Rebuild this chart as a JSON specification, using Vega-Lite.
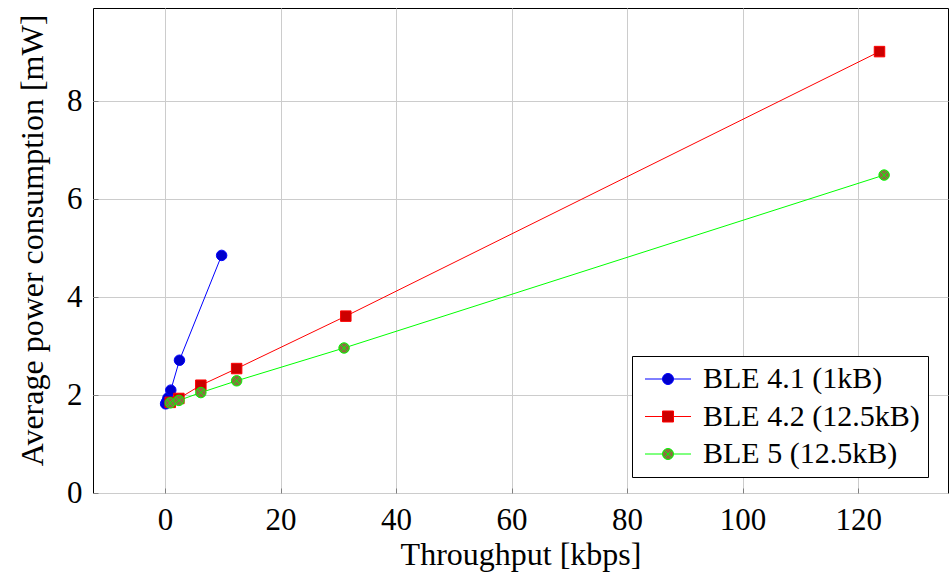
{
  "$schema": "https://vega.github.io/schema/vega-lite/v6.json",
  "autosize": {"type": "none"},
  "padding": {"left": 93, "top": 8, "right": 1, "bottom": 86},
  "width": 855,
  "height": 485,
  "background": "white",
  "data": {
    "values": [
      {"series": "BLE 4.1 (1kB)", "throughput": 0.1, "power": 1.82},
      {"series": "BLE 4.1 (1kB)", "throughput": 0.25, "power": 1.86},
      {"series": "BLE 4.1 (1kB)", "throughput": 0.5, "power": 1.94},
      {"series": "BLE 4.1 (1kB)", "throughput": 1.0, "power": 2.1},
      {"series": "BLE 4.1 (1kB)", "throughput": 2.5, "power": 2.71},
      {"series": "BLE 4.1 (1kB)", "throughput": 9.8, "power": 4.85},
      {"series": "BLE 4.2 (12.5kB)", "throughput": 0.9, "power": 1.85},
      {"series": "BLE 4.2 (12.5kB)", "throughput": 2.4, "power": 1.93},
      {"series": "BLE 4.2 (12.5kB)", "throughput": 6.2, "power": 2.2},
      {"series": "BLE 4.2 (12.5kB)", "throughput": 12.4, "power": 2.54},
      {"series": "BLE 4.2 (12.5kB)", "throughput": 31.3, "power": 3.61},
      {"series": "BLE 4.2 (12.5kB)", "throughput": 123.7, "power": 9.01},
      {"series": "BLE 5 (12.5kB)", "throughput": 0.9, "power": 1.84},
      {"series": "BLE 5 (12.5kB)", "throughput": 2.4, "power": 1.89},
      {"series": "BLE 5 (12.5kB)", "throughput": 6.2, "power": 2.05},
      {"series": "BLE 5 (12.5kB)", "throughput": 12.4, "power": 2.29},
      {"series": "BLE 5 (12.5kB)", "throughput": 31.0, "power": 2.96},
      {"series": "BLE 5 (12.5kB)", "throughput": 124.5, "power": 6.49}
    ]
  },
  "encoding": {
    "x": {
      "field": "throughput",
      "type": "quantitative",
      "scale": {"domain": [-12.47, 135.56], "nice": false, "zero": false},
      "axis": {
        "title": "Throughput [kbps]",
        "values": [0, 20, 40, 60, 80, 100, 120],
        "labelPadding": 17,
        "titlePadding": 4
      }
    },
    "y": {
      "field": "power",
      "type": "quantitative",
      "scale": {"domain": [0, 9.9], "nice": false, "zero": false},
      "axis": {
        "title": "Average power consumption [mW]",
        "values": [0, 2, 4, 6, 8],
        "labelPadding": 16,
        "titlePadding": 17,
        "titleY": 232
      }
    }
  },
  "layer": [
    {
      "mark": {"type": "line", "strokeWidth": 1},
      "encoding": {
        "color": {
          "field": "series",
          "type": "nominal",
          "scale": {
            "domain": ["BLE 4.1 (1kB)", "BLE 4.2 (12.5kB)", "BLE 5 (12.5kB)"],
            "range": ["#0000ff", "#ff0000", "#00ff00"]
          },
          "legend": null
        }
      }
    },
    {
      "mark": {"type": "point", "filled": true, "fillOpacity": 1, "opacity": 1, "strokeWidth": 1, "size": 110},
      "encoding": {
        "shape": {
          "field": "series",
          "type": "nominal",
          "scale": {
            "domain": ["BLE 4.1 (1kB)", "BLE 4.2 (12.5kB)", "BLE 5 (12.5kB)"],
            "range": ["circle", "square", "circle"]
          },
          "legend": null
        },
        "fill": {
          "field": "series",
          "type": "nominal",
          "scale": {
            "domain": ["BLE 4.1 (1kB)", "BLE 4.2 (12.5kB)", "BLE 5 (12.5kB)"],
            "range": ["#0000cc", "#cc0000", "#8a7040"]
          },
          "legend": null
        },
        "stroke": {
          "field": "series",
          "type": "nominal",
          "scale": {
            "domain": ["BLE 4.1 (1kB)", "BLE 4.2 (12.5kB)", "BLE 5 (12.5kB)"],
            "range": ["#0000ff", "#ff0000", "#00ff00"]
          },
          "legend": null
        }
      }
    },
    {
      "transform": [{"filter": "datum.series === 'BLE 5 (12.5kB)'"}],
      "mark": {
        "type": "point",
        "shape": "M-0.7,-0.7L0.7,0.7M-0.7,0.7L0.7,-0.7",
        "filled": false,
        "stroke": "#00ff00",
        "strokeWidth": 1,
        "opacity": 1,
        "size": 110
      }
    },
    {
      "transform": [{"filter": "false"}],
      "mark": {"type": "point", "filled": true, "fillOpacity": 1, "opacity": 1, "strokeWidth": 1},
      "encoding": {
        "shape": {
          "field": "series",
          "type": "nominal",
          "scale": {
            "domain": ["BLE 4.1 (1kB)", "BLE 4.2 (12.5kB)", "BLE 5 (12.5kB)"],
            "range": [
              "M-1,0L0.75,0M1.85,0L3.6,0M0.75,0A0.55,0.55,0,1,0,1.85,0A0.55,0.55,0,1,0,0.75,0Z",
              "M-1,0L0.75,0M1.85,0L3.6,0M0.75,-0.55L1.85,-0.55L1.85,0.55L0.75,0.55Z",
              "M-1,0L0.75,0M1.85,0L3.6,0M0.75,0A0.55,0.55,0,1,0,1.85,0A0.55,0.55,0,1,0,0.75,0ZM0.91,-0.39L1.69,0.39M0.91,0.39L1.69,-0.39"
            ]
          },
          "legend": {
            "title": null,
            "orient": "none",
            "legendX": 539,
            "legendY": 348,
            "strokeColor": "black",
            "fillColor": "white",
            "padding": 8,
            "rowPadding": 7.5,
            "symbolSize": 400,
            "symbolStrokeWidth": 1,
            "labelFontSize": 30,
            "labelOffset": 33,
            "labelColor": "black",
            "labelLimit": 400
          }
        },
        "fill": {
          "field": "series",
          "type": "nominal",
          "scale": {
            "domain": ["BLE 4.1 (1kB)", "BLE 4.2 (12.5kB)", "BLE 5 (12.5kB)"],
            "range": ["#0000cc", "#cc0000", "#8a7040"]
          },
          "legend": {
            "title": null,
            "orient": "none",
            "legendX": 539,
            "legendY": 348,
            "strokeColor": "black",
            "fillColor": "white",
            "padding": 8,
            "rowPadding": 7.5,
            "symbolSize": 400,
            "symbolStrokeWidth": 1,
            "labelFontSize": 30,
            "labelOffset": 33,
            "labelColor": "black",
            "labelLimit": 400
          }
        },
        "stroke": {
          "field": "series",
          "type": "nominal",
          "scale": {
            "domain": ["BLE 4.1 (1kB)", "BLE 4.2 (12.5kB)", "BLE 5 (12.5kB)"],
            "range": ["#0000ff", "#ff0000", "#00ff00"]
          },
          "legend": {
            "title": null,
            "orient": "none",
            "legendX": 539,
            "legendY": 348,
            "strokeColor": "black",
            "fillColor": "white",
            "padding": 8,
            "rowPadding": 7.5,
            "symbolSize": 400,
            "symbolStrokeWidth": 1,
            "labelFontSize": 30,
            "labelOffset": 33,
            "labelColor": "black",
            "labelLimit": 400
          }
        }
      }
    }
  ],
  "resolve": {
    "scale": {"shape": "independent", "fill": "independent", "stroke": "independent", "color": "independent"},
    "legend": {"shape": "independent", "fill": "independent", "stroke": "independent", "color": "independent"}
  },
  "config": {
    "font": "Times New Roman, Times, Liberation Serif, DejaVu Serif, Noto Serif, serif",
    "view": {"stroke": "black", "strokeWidth": 1},
    "legend": {
      "labelFont": "Times New Roman, Times, Liberation Serif, DejaVu Serif, Noto Serif, serif"
    },
    "axis": {
      "grid": true,
      "gridColor": "#cccccc",
      "gridWidth": 1,
      "domain": false,
      "ticks": true,
      "tickSize": -5,
      "tickColor": "#808080",
      "labelFont": "Times New Roman, Times, Liberation Serif, DejaVu Serif, Noto Serif, serif",
      "labelFontSize": 31,
      "labelColor": "black",
      "titleFont": "Times New Roman, Times, Liberation Serif, DejaVu Serif, Noto Serif, serif",
      "titleFontSize": 32,
      "titleFontWeight": "normal",
      "titleColor": "black",
      "labelFlush": false,
      "labelOverlap": false
    }
  }
}
